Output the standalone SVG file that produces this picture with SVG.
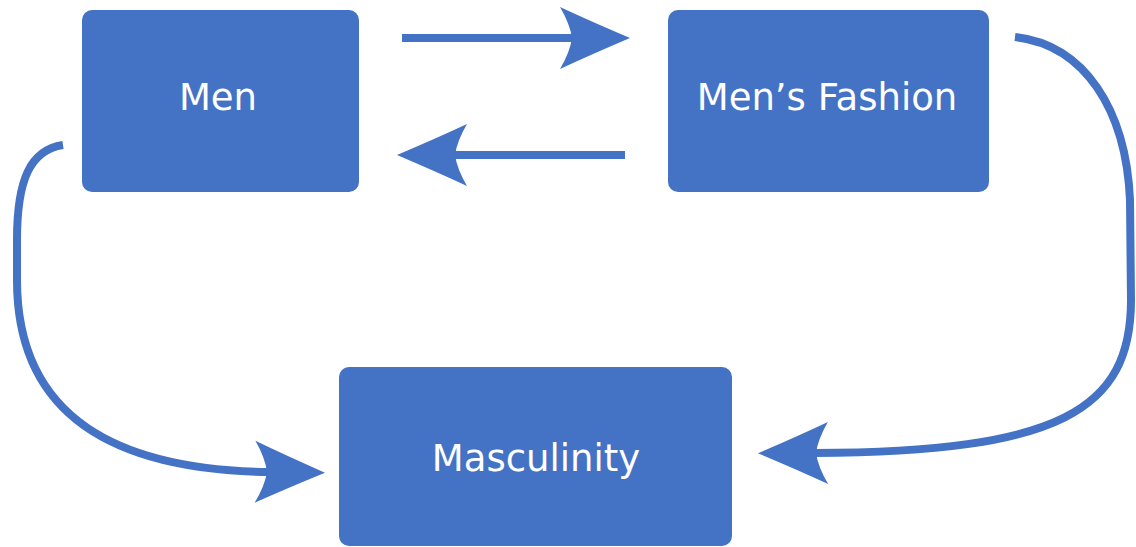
<svg xmlns="http://www.w3.org/2000/svg" width="1136" height="547" viewBox="0 0 1136 547">
  <style>
    .box { fill: #4472C4; }
    .lbl { fill: #ffffff; font-family: "DejaVu Sans", Verdana, sans-serif; font-size: 37px; text-anchor: middle; }
    .conn { fill: none; stroke: #4472C4; stroke-width: 8; marker-end: url(#head); }
  </style>
  <defs>
    <marker id="head" markerUnits="userSpaceOnUse" viewBox="-72 -33 74 66" markerWidth="74" markerHeight="66" refX="-56" refY="0" orient="auto">
      <path d="M0,0 Q-40,-17 -70,-31 Q-60,-14 -58,0 Q-60,14 -70,31 Q-40,17 0,0 Z" fill="#4472C4"/>
    </marker>
  </defs>
  <rect width="1136" height="547" fill="#ffffff"/>
  <g id="connectors">
    <path class="conn" d="M402,38 L574,38"/>
    <path class="conn" d="M625,155 L453,155"/>
    <path class="conn" d="M63,145 C30,150 17,180 17,240 L17,280 C17,420 120,470 269,472"/>
    <path class="conn" d="M1015,37 C1085,45 1126,110 1130,200 L1131,300 C1131,410 1060,452 814,453"/>
  </g>
  <g id="men">
    <rect class="box" x="82" y="10" width="277" height="182" rx="10"/>
    <text class="lbl" x="218" y="110">Men</text>
  </g>
  <g id="mens-fashion">
    <rect class="box" x="668" y="10" width="321" height="182" rx="10"/>
    <text class="lbl" x="827" y="110">Men’s Fashion</text>
  </g>
  <g id="masculinity">
    <rect class="box" x="339" y="367" width="393" height="179" rx="10"/>
    <text class="lbl" x="536" y="471">Masculinity</text>
  </g>
</svg>
